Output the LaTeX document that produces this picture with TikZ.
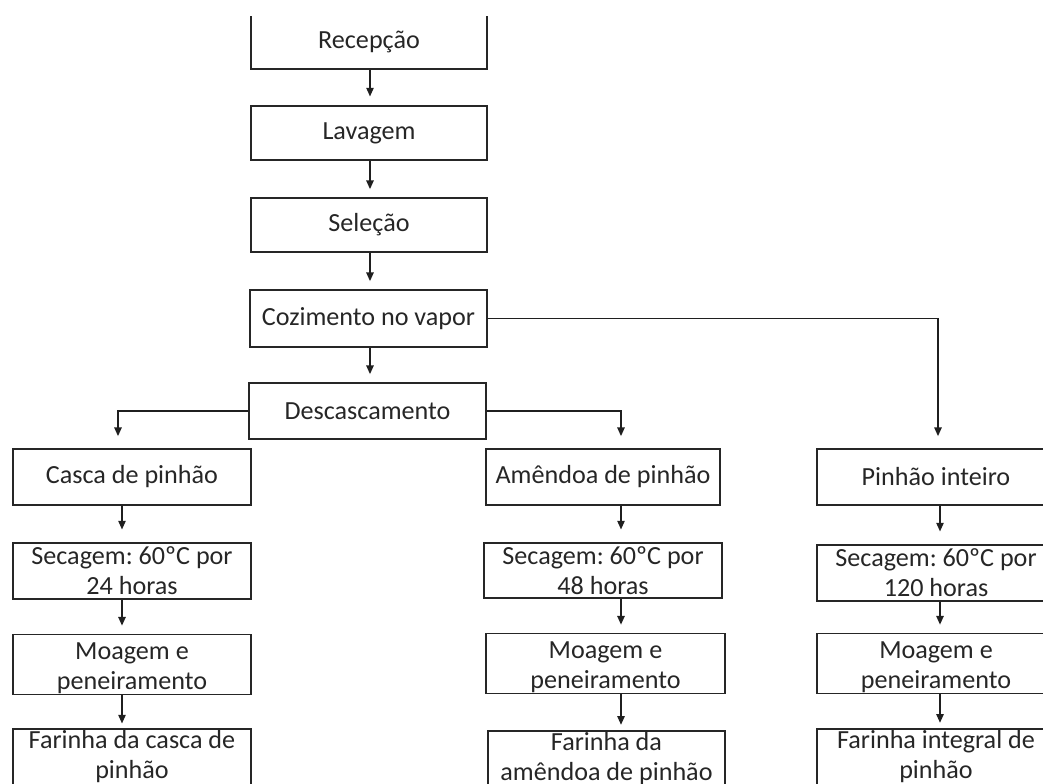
\documentclass[tikz,border=0pt]{standalone}
\usepackage{fontspec}
\setmainfont{Carlito}
\frenchspacing
\usetikzlibrary{arrows.meta}
\newcommand{\lowtxt}[1]{\raisebox{-3pt}[\height][\depth]{\begin{tabular}{@{}c@{}}#1\end{tabular}}}
\tikzset{
  box/.style={draw=black!85, line width=1.3pt, rectangle, inner sep=0pt, align=center,
    text=black!85, font=\fontsize{19.6pt}{22.5pt}\selectfont},
  flow/.style={draw=black!88, line width=1.1pt, -{Triangle[length=6.5pt,width=5.5pt]}},
}
\begin{document}
\begin{tikzpicture}[x=0.75pt,y=-0.75pt]
\useasboundingbox (0,0) rectangle (1043,783);
\clip (0,16) rectangle (1043,783);
% central column
\node[box, minimum width=177pt, minimum height=40.5pt] (rec) at (369,42) {Recepção};
\node[box, minimum width=177pt, minimum height=40.5pt] (lav) at (369,133) {Lavagem};
\node[box, minimum width=177pt, minimum height=40.5pt] (sel) at (369,225) {Seleção};
\node[box, minimum width=177.75pt, minimum height=42.75pt] (coz) at (368.5,318.5) {Cozimento no vapor};
\node[box, minimum width=177.75pt, minimum height=42pt] (desc) at (367.5,411) {Descascamento};
% branches
\node[box, minimum width=178.5pt, minimum height=42pt] (casca) at (132,477) {Casca de pinhão};
\node[box, minimum width=175.5pt, minimum height=42pt] (amen) at (603,477) {Amêndoa de pinhão};
\node[box, minimum width=178.5pt, minimum height=42pt] (pinh) at (936,477) {Pinhão inteiro};
% drying
\node[box, minimum width=178.5pt, minimum height=42pt] (secA) at (132,571) {Secagem: 60ºC por\\24 horas};
\node[box, minimum width=178.5pt, minimum height=41.25pt] (secB) at (603,570.5) {Secagem: 60ºC por\\48 horas};
\node[box, minimum width=178.5pt, minimum height=42pt] (secC) at (936,573) {Secagem: 60ºC por\\120 horas};
% milling
\node[box, minimum width=178.5pt, minimum height=42.75pt] (moaA) at (132,664.5) {\lowtxt{Moagem e\\peneiramento}};
\node[box, minimum width=179.25pt, minimum height=42.75pt] (moaB) at (605.5,663.5) {\lowtxt{Moagem e\\peneiramento}};
\node[box, minimum width=178.5pt, minimum height=42.75pt] (moaC) at (936,663.5) {\lowtxt{Moagem e\\peneiramento}};
% flours
\node[box, minimum width=178.5pt, minimum height=42pt] (farA) at (132,757) {Farinha da casca de\\pinhão};
\node[box, minimum width=177.75pt, minimum height=42pt] (farB) at (606.5,759) {Farinha da\\amêndoa de pinhão};
\node[box, minimum width=178.5pt, minimum height=42pt] (farC) at (936,757) {Farinha integral de\\pinhão};
% column coordinates
\coordinate (cM) at (370,0);
\coordinate (cA) at (122,0);
\coordinate (bA) at (118,0);
\coordinate (cB) at (621,0);
\coordinate (cC) at (940,0);
\coordinate (bC) at (938,0);
% central arrows
\draw[flow, shorten >=6.5pt] (rec.south -| cM) -- (lav.north -| cM);
\draw[flow, shorten >=6pt] (lav.south -| cM) -- (sel.north -| cM);
\draw[flow, shorten >=6pt] (sel.south -| cM) -- (coz.north -| cM);
\draw[flow, shorten >=6pt] (coz.south -| cM) -- (desc.north -| cM);
% branches
\draw[flow, shorten >=9pt] (desc.west) -| (casca.north -| bA);
\draw[flow, shorten >=9pt] (desc.east) -| (amen.north -| cB);
\draw[flow, shorten >=9pt] (coz.east) -| (pinh.north -| bC);
% left column
\draw[flow, shorten >=9.5pt] (casca.south -| cA) -- (secA.north -| cA);
\draw[flow, shorten >=6pt] (secA.south -| cA) -- (moaA.north -| cA);
\draw[flow, shorten >=3.5pt] (moaA.south -| cA) -- (farA.north -| cA);
% middle column
\draw[flow, shorten >=9.5pt] (amen.south -| cB) -- (secB.north -| cB);
\draw[flow, shorten >=6pt] (secB.south -| cB) -- (moaB.north -| cB);
\draw[flow, shorten >=4pt] (moaB.south -| cB) -- (farB.north -| cB);
% right column
\draw[flow, shorten >=9.5pt] (pinh.south -| cC) -- (secC.north -| cC);
\draw[flow, shorten >=6pt] (secC.south -| cC) -- (moaC.north -| cC);
\draw[flow, shorten >=4pt] (moaC.south -| cC) -- (farC.north -| cC);
\end{tikzpicture}
\end{document}
